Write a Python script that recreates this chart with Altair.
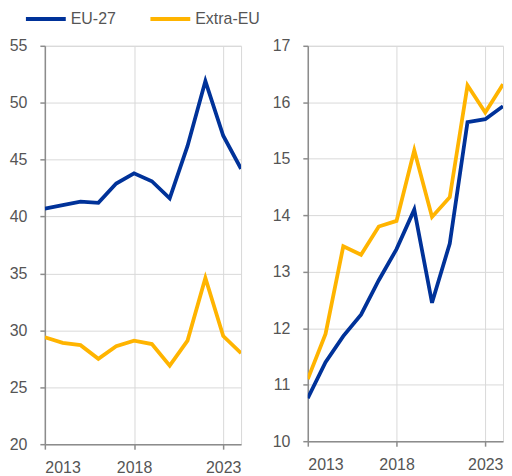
import altair as alt
import pandas as pd

years = list(range(2013, 2025))
series_names = ["EU-27", "Extra-EU"]

left_eu27 = [40.7, 41.0, 41.3, 41.2, 42.9, 43.8, 43.1, 41.6, 46.2, 51.9, 47.1, 44.2]
left_extra = [29.4, 28.9, 28.7, 27.5, 28.6, 29.1, 28.8, 26.9, 29.1, 34.6, 29.5, 28.0]

right_eu27 = [10.76, 11.4, 11.86, 12.24, 12.85, 13.4, 14.1, 12.45, 13.5, 15.65, 15.7, 15.93]
right_extra = [11.1, 11.9, 13.45, 13.3, 13.8, 13.9, 15.15, 13.97, 14.32, 16.3, 15.82, 16.32]

x_ticks = [2013, 2018, 2023]
left_y_ticks = [20, 25, 30, 35, 40, 45, 50, 55]
right_y_ticks = [10, 11, 12, 13, 14, 15, 16, 17]


def long_df(a, b):
    rows = []
    for y, v in zip(years, a):
        rows.append({"year": y, "series": series_names[0], "value": v})
    for y, v in zip(years, b):
        rows.append({"year": y, "series": series_names[1], "value": v})
    return pd.DataFrame(rows)


df_left = long_df(left_eu27, left_extra)
df_right = long_df(right_eu27, right_extra)

color = alt.Color(
    "series:N",
    scale=alt.Scale(domain=series_names, range=["#003299", "#FFB400"]),
    legend=alt.Legend(
        title=None,
        orient="none",
        legendX=-21,
        legendY=-49,
        direction="horizontal",
        symbolType="stroke",
        symbolSize=1600,
        symbolStrokeWidth=4,
        labelFontSize=16,
        labelColor="#555555",
        labelFont="Liberation Sans",
        labelOffset=3,
        columnPadding=26,
    ),
)


def panel(df, ydom, yticks, h):
    return (
        alt.Chart(df)
        .mark_line(strokeWidth=3.8, clip=True)
        .encode(
            x=alt.X(
                "year:Q",
                scale=alt.Scale(domain=[2013, 2024], nice=False, zero=False),
                axis=alt.Axis(values=x_ticks, format="d", title=None),
            ),
            y=alt.Y(
                "value:Q",
                scale=alt.Scale(domain=ydom, nice=False, zero=False),
                axis=alt.Axis(values=yticks, title=None),
            ),
            color=color,
            order="year:Q",
        )
        .properties(width=197, height=h)
    )


left = panel(df_left, [20, 55], left_y_ticks, 400)
right = panel(df_right, [10, 17], right_y_ticks, 397).properties(width=196)

chart = (
    alt.hconcat(left, right, spacing=29)
    .resolve_scale(y="independent")
    .properties(padding={"left": 0, "top": -12, "right": 0, "bottom": 0})
    .configure_view(stroke="#d9d9d9", strokeWidth=1)
    .configure_axis(
        labelFont="Liberation Sans",
        labelFontSize=16,
        labelColor="#555555",
        gridColor="#d9d9d9",
        gridWidth=1,
        domainColor="#8c8c8c",
        domainWidth=1.5,
        tickColor="#8c8c8c",
        tickWidth=1.5,
        tickSize=5,
    )
    .configure_axisY(labelPadding=13)
    .configure_axisX(labelPadding=10)
)

chart.save("out.html", embed_options={"renderer": "svg", "actions": False})
